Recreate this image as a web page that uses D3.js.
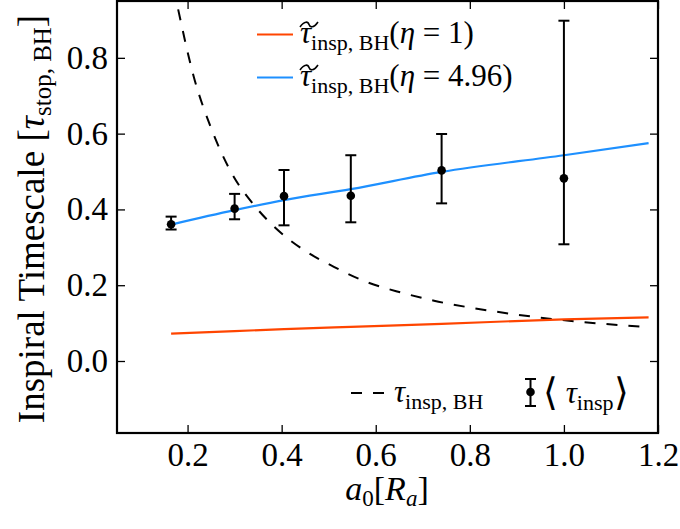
<!DOCTYPE html>
<html><head><meta charset="utf-8">
<script src="https://cdn.jsdelivr.net/npm/d3@7"></script>
<style>
body{margin:0;background:#fff}
svg{display:block}
text{font-family:"Liberation Serif","Times New Roman",serif;fill:#000}
</style>
</head><body><svg id="c" width="680" height="529"></svg>
<script>
// Measured inspiral times (mean with lower / upper error)
const a0Points = [0.165, 0.300, 0.405, 0.547, 0.740, 1.000];
const tauMean  = [0.361, 0.402, 0.435, 0.436, 0.503, 0.482];
const tauLow   = [0.347, 0.374, 0.358, 0.366, 0.416, 0.308];
const tauHigh  = [0.381, 0.441, 0.504, 0.543, 0.599, 0.898];

// Model curves
const a0Model   = [0.165, 0.300, 0.405, 0.547, 0.740, 1.000, 1.180];
const tauEta1   = [0.072, 0.079, 0.084, 0.090, 0.098, 0.110, 0.115];
const tauEta496 = [0.360, 0.398, 0.4245, 0.4535, 0.499, 0.543, 0.575];

// Black-hole inspiral timescale
const a0BH  = [0.180, 0.213, 0.249, 0.291, 0.347, 0.387, 0.447, 0.511, 0.582, 0.653, 0.724, 0.836, 0.964, 1.180];
const tauBH = [0.928, 0.751, 0.618, 0.502, 0.403, 0.351, 0.293, 0.2485, 0.208, 0.181, 0.159, 0.134, 0.1125, 0.089];

const xTicks = [0.2, 0.4, 0.6, 0.8, 1.0, 1.2];
const yTicks = [0.0, 0.2, 0.4, 0.6, 0.8];

const L = 117, R = 658, T = 1, B = 433;
const x = d3.scaleLinear([0.05, 1.2], [L, R]);
const y = d3.scaleLinear([-0.19, 0.95], [B, T]);

const svg = d3.select("#c");
svg.append("defs").append("clipPath").attr("id", "plot")
  .append("rect").attr("x", L).attr("y", T).attr("width", R - L).attr("height", B - T);

const g = svg.append("g").attr("clip-path", "url(#plot)");
const smooth = d3.line().x(d => x(d[0])).y(d => y(d[1])).curve(d3.curveMonotoneX);

g.append("path").datum(a0BH.map((v, i) => [v, tauBH[i]]))
  .attr("d", smooth).attr("fill", "none").attr("stroke", "#000")
  .attr("stroke-width", 2).attr("stroke-dasharray", "11,11");

g.append("path").datum(a0Model.map((v, i) => [v, tauEta1[i]]))
  .attr("d", smooth).attr("fill", "none").attr("stroke", "#ff4500").attr("stroke-width", 2.2);

g.append("path").datum(a0Model.map((v, i) => [v, tauEta496[i]]))
  .attr("d", smooth).attr("fill", "none").attr("stroke", "#1e90ff").attr("stroke-width", 2.2);

// Error bars
const eb = g.append("g").attr("stroke", "#000").attr("stroke-width", 2);
a0Points.forEach((a, i) => {
  const cx = x(a);
  eb.append("line").attr("x1", cx).attr("x2", cx).attr("y1", y(tauLow[i])).attr("y2", y(tauHigh[i]));
  [tauLow[i], tauHigh[i]].forEach(v => {
    eb.append("line").attr("x1", cx - 5.5).attr("x2", cx + 5.5).attr("y1", y(v)).attr("y2", y(v));
  });
});
g.append("g").selectAll("circle").data(a0Points).join("circle")
  .attr("cx", d => x(d)).attr("cy", (d, i) => y(tauMean[i])).attr("r", 4.3).attr("fill", "#000");

// Axes with inward ticks on all four sides
const fmt = d3.format(".1f");
const ax = (axis, tr, labels) => {
  const a = svg.append("g").attr("transform", tr).call(axis);
  a.select(".domain").remove();
  a.selectAll(".tick line").attr("stroke", "#000").attr("stroke-width", 1.3);
  a.selectAll("text").style("font-family", '"Liberation Serif",serif').style("font-size", "33px");
  if (!labels) a.selectAll("text").remove();
  return a;
};
ax(d3.axisBottom(x).tickValues(xTicks).tickSize(-8).tickPadding(10).tickFormat(fmt), `translate(0,${B})`, true);
ax(d3.axisTop(x).tickValues(xTicks).tickSize(-8), `translate(0,${T})`, false);
ax(d3.axisLeft(y).tickValues(yTicks).tickSize(-8).tickPadding(9).tickFormat(fmt), `translate(${L},0)`, true);
ax(d3.axisRight(y).tickValues(yTicks).tickSize(-8), `translate(${R},0)`, false);

svg.append("rect").attr("x", L).attr("y", T).attr("width", R - L).attr("height", B - T)
  .attr("fill", "none").attr("stroke", "#000").attr("stroke-width", 2.2);

// Axis labels
const xl = svg.append("text").attr("x", 387).attr("y", 500).attr("text-anchor", "middle").style("font-size", "34px");
xl.append("tspan").attr("font-style", "italic").text("a");
xl.append("tspan").attr("dy", 6).style("font-size", "23px").text("0");
xl.append("tspan").attr("dy", -6).text("[");
xl.append("tspan").attr("font-style", "italic").text("R");
xl.append("tspan").attr("dy", 6).attr("font-style", "italic").style("font-size", "23px").text("a");
xl.append("tspan").attr("dy", -6).text("]");

const yl = svg.append("text").attr("transform", "translate(44,219) rotate(-90)")
  .attr("text-anchor", "middle").style("font-size", "37px");
yl.append("tspan").text("Inspiral Timescale [");
yl.append("tspan").attr("font-style", "italic").text("τ");
yl.append("tspan").attr("dy", 7).style("font-size", "25px").text("stop, BH");
yl.append("tspan").attr("dy", -7).text("]");

// Legends
function tauLabel(sel) {
  sel.append("tspan").attr("font-style", "italic").text("τ");
  sel.append("tspan").attr("dy", 7).style("font-size", "22px").text("insp, BH");
}
function wideTilde(x0, x1, yc) {
  const w = x1 - x0, p = d3.path();
  p.moveTo(x0, yc + 2.5);
  p.bezierCurveTo(x0 + w * 0.25, yc - 4, x0 + w * 0.45, yc - 3, x0 + w * 0.5, yc);
  p.bezierCurveTo(x0 + w * 0.55, yc + 3, x0 + w * 0.75, yc + 4, x1, yc - 2.5);
  svg.append("path").attr("d", p.toString()).attr("fill", "none").attr("stroke", "#000").attr("stroke-width", 1.6);
}
const leg = [
  {c: "#ff4500", y: 34.5, eta: "1"},
  {c: "#1e90ff", y: 77.5, eta: "4.96"}
];
leg.forEach(e => {
  svg.append("line").attr("x1", 257).attr("x2", 293).attr("y1", e.y).attr("y2", e.y)
    .attr("stroke", e.c).attr("stroke-width", 2.2);
  const t = svg.append("text").attr("x", 300).attr("y", e.y + 8).style("font-size", "31px");
  tauLabel(t);
  t.append("tspan").attr("dy", -7).text("(");
  t.append("tspan").attr("font-style", "italic").text("η");
  t.append("tspan").text(" = " + e.eta + ")");
  wideTilde(300, 318, e.y - 10);
});

svg.append("line").attr("x1", 351).attr("x2", 385).attr("y1", 393).attr("y2", 393)
  .attr("stroke", "#000").attr("stroke-width", 2).attr("stroke-dasharray", "11,11");
const t1 = svg.append("text").attr("x", 394).attr("y", 402).style("font-size", "31px");
tauLabel(t1);

svg.append("line").attr("x1", 530.5).attr("x2", 530.5).attr("y1", 379).attr("y2", 406).attr("stroke", "#000").attr("stroke-width", 2);
[379, 406].forEach(v => svg.append("line").attr("x1", 525).attr("x2", 536).attr("y1", v).attr("y2", v).attr("stroke", "#000").attr("stroke-width", 2));
svg.append("circle").attr("cx", 530.5).attr("cy", 392).attr("r", 4.3).attr("fill", "#000");
const t2 = svg.append("text").attr("x", 543).attr("y", 403).style("font-size", "31px");
t2.append("tspan").style("font-size", "38px").attr("dy", 2).text("⟨");
t2.append("tspan").attr("dy", -2).attr("font-style", "italic").text(" τ");
t2.append("tspan").attr("dy", 7).style("font-size", "22px").text("insp");
t2.append("tspan").attr("dy", -5).style("font-size", "38px").text("⟩");
</script>
</body></html>
